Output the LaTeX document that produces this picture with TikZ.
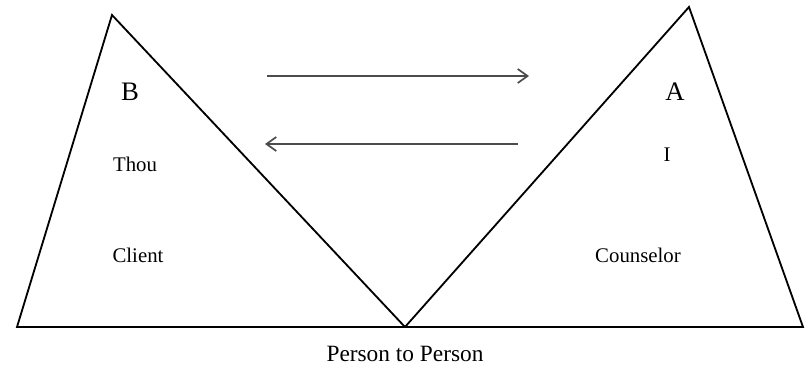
\documentclass[tikz,border=0pt]{standalone}
\usepackage{fontspec}
\setmainfont{Liberation Serif}
\usetikzlibrary{arrows.meta}

\tikzset{
  side/.style={line width=1.3pt, line join=miter},
  flow/.style={line width=1.4pt, draw=black!70, -{Straight Barb[length=7pt, width=10pt, line width=1.2pt]}},
  role/.style={font=\fontsize{14.8}{16}\selectfont, inner sep=0pt},
  letter/.style={font=\fontsize{19}{20}\selectfont, inner sep=0pt}
}

\begin{document}
\begin{tikzpicture}[x=0.025cm, y=-0.025cm]
    \useasboundingbox (0,0) rectangle (805,369);

    % Triangle corners
    \coordinate (leftBase) at (17,327);
    \coordinate (leftTop) at (112,15);
    \coordinate (meet) at (405,327);
    \coordinate (rightTop) at (689,7);
    \coordinate (rightBase) at (803,327);

    % Client triangle (B)
    \draw[side] (leftBase) -- (leftTop) -- (meet) -- cycle;
    \node[letter] (b) at (130,92) {B};
    \node[role] (thou) at (135,164) {Thou};
    \node[role] (client) at (138,255) {Client};

    % Counselor triangle (A)
    \draw[side] (meet) -- (rightTop) -- (rightBase) -- cycle;
    \node[letter] (a) at (675,92) {A};
    \node[role] (i) at (667,155) {I};
    \node[role] (counselor) at (638,255) {Counselor};

    % Arrows
    \coordinate (toStart) at (267,76);
    \coordinate (toEnd) at (529,76);
    \coordinate (backStart) at (518,144);
    \coordinate (backEnd) at (265,144);
    \draw[flow] (toStart) -- (toEnd);
    \draw[flow] (backStart) -- (backEnd);

    % Caption
    \node[font=\fontsize{16.6}{18}\selectfont, inner sep=0pt] (caption) at (405,354) {Person to Person};
\end{tikzpicture}
\end{document}
